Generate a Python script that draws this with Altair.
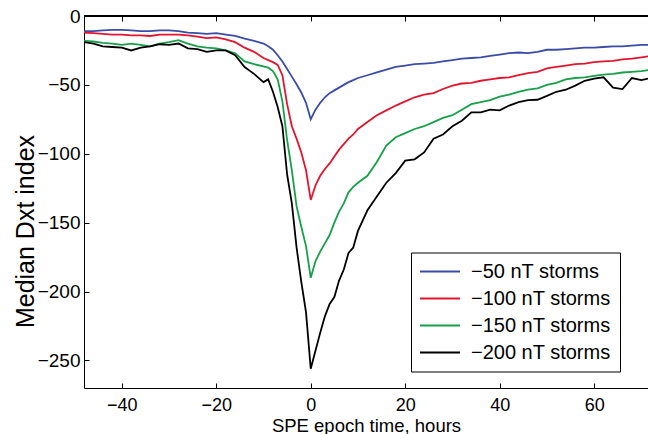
import altair as alt
import pandas as pd

hours = [-48, -46, -44, -42, -40, -38, -36, -34, -32, -30, -28, -26, -24, -22, -20, -18, -16, -14, -12, -10,
         -9, -8, -7, -6, -5, -4, -3, -2, -1, 0, 1, 2, 3, 4, 5, 6, 7, 8, 9,
         10, 12, 14, 16, 18, 20, 22, 24, 26, 28, 30, 32, 34, 36, 38, 40, 42, 44, 46, 48, 50, 52, 54, 56, 58,
         60, 62, 64, 66, 68, 70, 72]

storms_50 = [-11, -11, -10.5, -10, -10, -10.5, -11, -11, -10.5, -10.5, -11, -12, -12.5, -13, -12.5, -13.5, -14.5, -16.5, -18, -20,
             -22, -24.5, -28.5, -33, -38.5, -44, -49.5, -55.5, -63, -75, -68, -63, -59, -56, -54, -52, -50, -48, -46.5,
             -45, -43, -41, -39, -37, -36, -35, -34.5, -34, -33, -32, -31, -30.5, -30, -29, -28, -27, -26.5, -27, -26,
             -24.5, -24.5, -24, -23.5, -23, -23, -22.5, -22, -22, -21.5, -21, -21]

storms_100 = [-12, -12.5, -13, -13.5, -13.5, -14, -14, -14.5, -13.5, -13.5, -13.5, -14, -15, -16, -15.5, -17, -19, -23, -26, -30.5,
              -32, -33.5, -35.5, -43, -64, -80, -89, -99, -112, -133.5, -123, -116, -111, -107, -102, -97, -93, -89, -86,
              -82, -77, -72, -68.5, -65, -62, -59, -57, -56, -53, -50.5, -49, -48.5, -47, -46, -45, -44.5, -43, -41.5,
              -40.5, -38, -37, -36, -35, -34.5, -33.5, -33, -32.5, -31.5, -31, -30, -29]

storms_150 = [-18, -18.5, -19.5, -20, -21, -20, -21, -22, -20, -19, -17.5, -20, -22, -23, -23.5, -25, -27, -33, -35, -36.5,
              -37.5, -40, -46, -62, -90, -112, -138, -153, -167, -190, -178, -171, -165, -159, -150, -142, -136, -128, -124,
              -121, -116, -106, -94, -88, -85, -82, -80, -77, -74, -72, -68, -64, -62.5, -61, -58.5, -57, -55, -53.5,
              -52.5, -50, -48.5, -46, -45, -44.5, -43.5, -42.5, -42, -41, -40.5, -40, -39]

storms_200 = [-19, -20, -22, -22.5, -23, -25, -23, -22, -20.5, -21, -20, -23.5, -24, -26, -25, -25, -28.5, -37, -42, -48,
              -46, -55, -66, -80, -115, -136, -168, -193, -215, -256, -243, -230, -218, -209, -204, -192, -184, -172, -168,
              -156, -141, -131, -121, -114, -105, -104, -99, -89, -86, -80, -76, -70, -70, -68, -68.5, -65, -62.5, -61,
              -60.8, -58, -55, -53.5, -50.5, -47, -45.5, -44.5, -52, -53, -45, -46.5, -45]

series_names = ["\u221250 nT storms", "\u2212100 nT storms", "\u2212150 nT storms", "\u2212200 nT storms"]
series_colors = ["#3b4ca6", "#e3152e", "#17a049", "#000000"]

x_ticks = [-40, -20, 0, 20, 40, 60]
y_ticks = [0, -50, -100, -150, -200, -250]

rows = []
for name, vals in zip(series_names, [storms_50, storms_100, storms_150, storms_200]):
    for h, v in zip(hours, vals):
        rows.append({"hour": h, "dxt": v, "series": name})
df = pd.DataFrame(rows)

FONT = "Liberation Sans"
xs = alt.Scale(domain=[-48, 71.4], nice=False, zero=False)
ys = alt.Scale(domain=[-270, 0], nice=False, zero=False)

lines = alt.Chart(df).mark_line(strokeWidth=1.8, clip=True).encode(
    x=alt.X("hour:Q", scale=xs, axis=alt.Axis(
        values=x_ticks, orient="bottom", title="SPE epoch time, hours", ticks=False, grid=False,
        domainColor="black", domainWidth=1, labelColor="black", labelFontSize=18, labelFont=FONT,
        labelPadding=8, titleFont=FONT, titleFontSize=18.5, titleFontWeight="normal", titleColor="black",
        titleY=43, titleBaseline="alphabetic")),
    y=alt.Y("dxt:Q", scale=ys, axis=alt.Axis(
        values=y_ticks, orient="left", title="Median Dxt index", ticks=False, grid=False,
        domainColor="black", domainWidth=1, labelColor="black", labelFontSize=19, labelFont=FONT,
        labelPadding=4, titleFont=FONT, titleFontSize=25, titleFontWeight="normal", titleColor="black",
        titleX=-51, titleY=215, titleBaseline="alphabetic", titleAlign="center")),
    color=alt.Color("series:N", scale=alt.Scale(domain=series_names, range=series_colors),
                    legend=alt.Legend(title=None, orient="none", legendX=327, legendY=236.5,
                                      direction="vertical", symbolType="M-2,0L6,0", symbolSize=100,
                                      symbolStrokeWidth=1.8, labelFont=FONT, labelFontSize=20,
                                      labelColor="black", labelOffset=31, rowPadding=7,
                                      padding=9, strokeColor="black", fillColor="white",
                                      cornerRadius=0)),
)

ticks_bl = alt.Chart(df).mark_line(opacity=0).encode(
    x=alt.X("hour:Q", scale=xs, axis=alt.Axis(
        values=x_ticks, orient="bottom", offset=-5, tickSize=5, tickColor="black", domain=False,
        labels=False, title=None, grid=False)),
    y=alt.Y("dxt:Q", scale=ys, axis=alt.Axis(
        values=y_ticks, orient="left", offset=-5, tickSize=5, tickColor="black", domain=False,
        labels=False, title=None, grid=False)),
)

ticks_top = alt.Chart(df).mark_line(opacity=0).encode(
    x=alt.X("hour:Q", scale=xs, axis=alt.Axis(
        values=x_ticks, orient="top", offset=-5, tickSize=5, tickColor="black", domain=False,
        labels=False, title=None, grid=False)),
    y=alt.Y("dxt:Q", scale=ys, axis=None),
)

top_border = alt.Chart(df).mark_rule(color="black", strokeWidth=1).encode(
    y=alt.YDatum(0, axis=None),
)

chart = alt.layer(lines, ticks_bl, ticks_top, top_border).resolve_axis(
    x="independent", y="independent"
).properties(
    width=564, height=372,
    autosize=alt.AutoSizeParams(type="none"),
    padding={"left": 84, "top": 16, "right": 0, "bottom": 46},
    background="white",
).configure_view(stroke=None)

chart.save("out.html", embed_options={"renderer": "svg", "actions": False})
